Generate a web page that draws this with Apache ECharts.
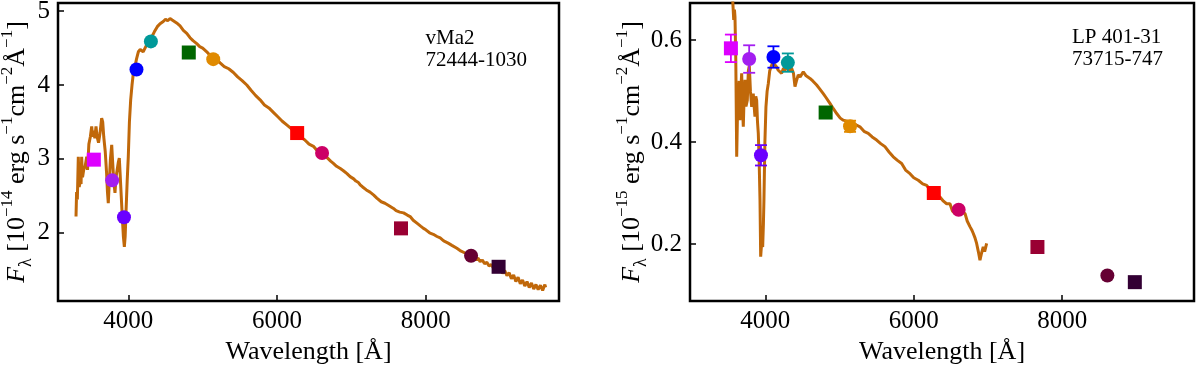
<!DOCTYPE html>
<html>
<head>
<meta charset="utf-8">
<script src="https://cdn.jsdelivr.net/npm/echarts@6/dist/echarts.min.js"></script>
<style>
    html, body { margin: 0; padding: 0; background: #fff; }
    #main { width: 1200px; height: 370px; }
</style>
</head>
<body>
<div id="main"></div>
<script>
// filters (J-PLUS), squares = broad bands, circles = narrow bands
var filterWave = [3537, 3783, 3942, 4110, 4304, 4813, 5142, 6270, 6605, 7666, 8608, 8978];
var filterColors = ['#dd00ff', '#a31ef0', '#6a00ff', '#0000ff', '#009999', '#006600',
    '#e08a00', '#ff0000', '#cc0066', '#990033', '#660033', '#330034'];
var filterShapes = ['rect', 'circle', 'circle', 'circle', 'circle', 'rect',
    'circle', 'rect', 'circle', 'rect', 'circle', 'rect'];

// star 1: vMa2
var photA = [2.99, 2.71, 2.21, 4.21, 4.59, 4.44, 4.35, 3.35, 3.08, 2.06, 1.69, 1.54];
var specWaveA = [3297, 3305, 3315, 3328, 3340, 3352, 3365, 3373, 3385, 3400, 3420, 3441, 3452, 3470, 3490,
    3508, 3520, 3535, 3550, 3566, 3580, 3600, 3620, 3642, 3656, 3670, 3690, 3708, 3720, 3731, 3745, 3760,
    3777, 3790, 3805, 3821, 3835, 3850, 3865, 3879, 3890, 3905, 3920, 3934, 3947, 3958, 3970, 3985, 4000,
    4015, 4032, 4050, 4068, 4090, 4110, 4135, 4160, 4185, 4200, 4225, 4260, 4290, 4315, 4350, 4390, 4427,
    4470, 4500, 4530, 4561, 4590, 4620, 4650, 4696, 4740, 4786, 4830, 4870, 4920, 4960, 5000, 5055, 5100,
    5150, 5180, 5234, 5290, 5350, 5413, 5470, 5530, 5593, 5650, 5710, 5772, 5830, 5890, 5950, 6010, 6070,
    6130, 6190, 6250, 6310, 6370, 6430, 6489, 6540, 6579, 6620, 6669, 6720, 6757, 6800, 6850, 6892, 6940,
    6982, 7030, 7060, 7094, 7117, 7150, 7200, 7250, 7300, 7341, 7400, 7450, 7500, 7565, 7600, 7650, 7700,
    7750, 7789, 7830, 7880, 7930, 7968, 8000, 8050, 8100, 8150, 8193, 8240, 8300, 8350, 8417, 8460, 8520,
    8560, 8596, 8650, 8680, 8700, 8730, 8760, 8790, 8820, 8850, 8880, 8910, 8940, 8970, 9000, 9030, 9060,
    9090, 9120, 9150, 9180, 9210, 9240, 9270, 9300, 9330, 9360, 9390, 9420, 9450, 9480, 9510, 9540, 9570,
    9600, 9610];
var specFluxA = [2.22, 2.55, 2.45, 3.03, 2.62, 2.70, 2.66, 3.03, 2.75, 2.85, 2.90, 3.03, 2.85, 3.20, 3.30,
    3.44, 3.30, 3.38, 3.28, 3.44, 3.30, 3.22, 3.35, 3.55, 3.50, 3.30, 3.10, 2.81, 2.55, 2.40, 2.70, 3.00,
    3.19, 2.95, 2.70, 2.54, 2.75, 2.85, 2.95, 3.01, 2.80, 2.50, 2.20, 1.95, 1.81, 1.95, 2.30, 2.70, 3.03,
    3.50, 3.80, 4.00, 4.16, 4.25, 4.35, 4.45, 4.48, 4.47, 4.45, 4.50, 4.57, 4.61, 4.65, 4.72, 4.79, 4.83,
    4.86, 4.89, 4.87, 4.90, 4.88, 4.86, 4.84, 4.80, 4.74, 4.70, 4.64, 4.60, 4.56, 4.52, 4.50, 4.45, 4.40,
    4.36, 4.35, 4.30, 4.25, 4.22, 4.17, 4.11, 4.06, 4.00, 3.93, 3.86, 3.80, 3.73, 3.69, 3.63, 3.57, 3.51,
    3.46, 3.41, 3.35, 3.30, 3.26, 3.20, 3.17, 3.11, 3.08, 3.05, 3.02, 2.97, 2.94, 2.90, 2.87, 2.84, 2.80,
    2.76, 2.73, 2.70, 2.68, 2.65, 2.62, 2.58, 2.55, 2.51, 2.47, 2.42, 2.40, 2.37, 2.33, 2.30, 2.28, 2.27,
    2.24, 2.22, 2.17, 2.13, 2.09, 2.06, 2.04, 2.00, 1.98, 1.95, 1.93, 1.89, 1.86, 1.83, 1.79, 1.76, 1.73,
    1.71, 1.70, 1.67, 1.63, 1.66, 1.61, 1.63, 1.58, 1.60, 1.55, 1.57, 1.52, 1.55, 1.49, 1.52, 1.45, 1.49,
    1.42, 1.46, 1.38, 1.43, 1.34, 1.40, 1.31, 1.36, 1.28, 1.34, 1.26, 1.32, 1.24, 1.30, 1.23, 1.29, 1.22,
    1.30, 1.26];

// star 2: LP 401-31
var photB = [0.584, 0.563, 0.374, 0.567, 0.556, 0.458, 0.431, 0.300, 0.267, 0.194, 0.138, 0.125];
var photErrB = [0.027, 0.027, 0.020, 0.021, 0.018, 0, 0.011, 0, 0, 0, 0, 0];
var specWaveB = [3555, 3561, 3575, 3585, 3592, 3603, 3615, 3625, 3636, 3648, 3659, 3670, 3682, 3693, 3704,
    3715, 3727, 3740, 3758, 3772, 3785, 3800, 3817, 3838, 3850, 3861, 3872, 3884, 3895, 3906, 3918, 3929,
    3938, 3950, 3965, 3975, 3982, 3995, 4009, 4025, 4041, 4060, 4086, 4105, 4131, 4150, 4175, 4200, 4220,
    4245, 4265, 4290, 4320, 4355, 4380, 4400, 4420, 4444, 4470, 4512, 4550, 4602, 4640, 4692, 4730, 4781,
    4820, 4871, 4915, 4962, 5010, 5051, 5100, 5164, 5220, 5275, 5330, 5387, 5440, 5500, 5555, 5612, 5670,
    5724, 5780, 5837, 5890, 5949, 6000, 6061, 6120, 6174, 6240, 6308, 6353, 6400, 6443, 6488, 6520, 6555,
    6600, 6640, 6690, 6720, 6757, 6780, 6801, 6825, 6847, 6870, 6892, 6910, 6936, 6955, 6982];
var specFluxB = [0.690, 0.679, 0.640, 0.660, 0.646, 0.560, 0.371, 0.450, 0.482, 0.520, 0.443, 0.500, 0.535,
    0.470, 0.430, 0.490, 0.522, 0.470, 0.482, 0.540, 0.550, 0.500, 0.469, 0.495, 0.470, 0.450, 0.490, 0.482,
    0.440, 0.417, 0.360, 0.286, 0.175, 0.200, 0.194, 0.240, 0.286, 0.400, 0.469, 0.500, 0.515, 0.540, 0.551,
    0.556, 0.558, 0.548, 0.541, 0.540, 0.535, 0.545, 0.541, 0.548, 0.540, 0.545, 0.535, 0.509, 0.520, 0.532,
    0.528, 0.538, 0.530, 0.525, 0.520, 0.512, 0.505, 0.495, 0.487, 0.476, 0.466, 0.456, 0.447, 0.443, 0.441,
    0.436, 0.434, 0.430, 0.421, 0.417, 0.410, 0.404, 0.397, 0.391, 0.380, 0.371, 0.364, 0.358, 0.345, 0.338,
    0.330, 0.325, 0.318, 0.315, 0.302, 0.292, 0.292, 0.284, 0.279, 0.279, 0.265, 0.260, 0.270, 0.262, 0.260,
    0.245, 0.234, 0.228, 0.221, 0.212, 0.201, 0.185, 0.168, 0.180, 0.194, 0.185, 0.201];

// ticks
var xTicks = [4000, 6000, 8000];
var yTicksA = [2, 3, 4, 5];
var yTicksB = [0.2, 0.4, 0.6];

var serif = 'Liberation Serif';
var specColor = '#c0680a';

function zip(xs, ys) {
    var out = [];
    for (var i = 0; i < xs.length; i++) {
        out.push([xs[i], ys[i]]);
    }
    return out;
}

function photPoints(flux) {
    var out = [];
    for (var i = 0; i < flux.length; i++) {
        out.push({
            value: [filterWave[i], flux[i]],
            symbol: filterShapes[i],
            itemStyle: { color: filterColors[i], opacity: 1 }
        });
    }
    return out;
}

// y label with super/subscripts
function yName(exp) {
    return '{it|F}{sub|λ}{b| [10}{sup|−' + exp + '}{b| erg s}{sup|−1}{b|cm}{sup|−2}{b|Å}{sup|−1}{b|]}';
}
var yNameRich = {
    b: { fontSize: 26, fontFamily: serif, lineHeight: 36, verticalAlign: 'middle', color: '#000' },
    it: { fontSize: 26, fontFamily: serif, fontStyle: 'italic', lineHeight: 36, verticalAlign: 'middle', color: '#000' },
    sub: { fontSize: 18, fontFamily: serif, lineHeight: 26, verticalAlign: 'bottom', color: '#000' },
    sup: { fontSize: 17, fontFamily: serif, lineHeight: 17, verticalAlign: 'top', color: '#000' }
};

function plainNum(v) {
    return String(v);
}

function makeX(idx, min, max) {
    return {
        gridIndex: idx,
        type: 'value',
        min: min,
        max: max,
        name: 'Wavelength [Å]',
        nameLocation: 'middle',
        nameGap: 38,
        nameMoveOverlap: false,
        nameTextStyle: { fontSize: 26, fontFamily: serif, color: '#000' },
        axisLine: { show: false },
        splitLine: { show: false },
        axisTick: { show: true, inside: true, length: 6, customValues: xTicks, lineStyle: { color: '#000', width: 1.5 } },
        axisLabel: { customValues: xTicks, formatter: plainNum, margin: 8, fontSize: 25, fontFamily: serif, color: '#000' }
    };
}

function makeY(idx, min, max, ticks, exp, gap) {
    return {
        gridIndex: idx,
        type: 'value',
        min: min,
        max: max,
        name: yName(exp),
        nameLocation: 'middle',
        nameRotate: 90,
        nameGap: gap,
        nameMoveOverlap: false,
        nameTextStyle: { rich: yNameRich },
        axisLine: { show: false },
        splitLine: { show: false },
        axisTick: { show: true, inside: true, length: 6, customValues: ticks, lineStyle: { color: '#000', width: 1.5 } },
        axisLabel: { customValues: ticks, formatter: plainNum, margin: 8, fontSize: 25, fontFamily: serif, color: '#000' }
    };
}

// error bars drawn through the axis scale
function errorBarItem(params, api) {
    var x = api.value(0);
    var lo = api.coord([x, api.value(1)]);
    var hi = api.coord([x, api.value(2)]);
    var c = filterColors[api.value(3)];
    var cap = 6;
    var st = { stroke: c, lineWidth: 1.8 };
    return {
        type: 'group',
        children: [
            { type: 'line', shape: { x1: lo[0], y1: lo[1], x2: hi[0], y2: hi[1] }, style: st },
            { type: 'line', shape: { x1: lo[0] - cap, y1: lo[1], x2: lo[0] + cap, y2: lo[1] }, style: st },
            { type: 'line', shape: { x1: hi[0] - cap, y1: hi[1], x2: hi[0] + cap, y2: hi[1] }, style: st }
        ]
    };
}

var errDataB = [];
for (var i = 0; i < photB.length; i++) {
    if (photErrB[i] > 0) {
        errDataB.push([filterWave[i], photB[i] - photErrB[i], photB[i] + photErrB[i], i]);
    }
}

var gridStyle = { show: true, borderColor: '#000', borderWidth: 2.5, backgroundColor: 'transparent', outerBoundsMode: 'none', containLabel: false };

var myChart = echarts.init(document.getElementById('main'), null, { renderer: 'canvas' });

var option = {
    animation: false,
    backgroundColor: '#fff',
    grid: [
        Object.assign({ left: 58, top: 3, width: 501, height: 298 }, gridStyle),
        Object.assign({ left: 690, top: 3, width: 504, height: 298 }, gridStyle)
    ],
    xAxis: [makeX(0, 3055, 9790), makeX(1, 2986, 9775)],
    yAxis: [makeY(0, 1.077, 5.11, yTicksA, '14', 23), makeY(1, 0.088, 0.673, yTicksB, '15', 40)],
    graphic: [
        {
            type: 'text', right: 673, top: 27,
            style: { text: 'vMa2\n72444-1030', align: 'right', font: '21px "Liberation Serif"', lineHeight: 22, fill: '#000' }
        },
        {
            type: 'text', right: 37, top: 26,
            style: { text: 'LP 401-31\n73715-747', align: 'right', font: '21px "Liberation Serif"', lineHeight: 22, fill: '#000' }
        }
    ],
    series: [
        {
            type: 'line', xAxisIndex: 0, yAxisIndex: 0,
            data: zip(specWaveA, specFluxA),
            showSymbol: false, clip: true,
            lineStyle: { color: specColor, width: 3 },
            z: 2
        },
        {
            type: 'scatter', xAxisIndex: 0, yAxisIndex: 0,
            data: photPoints(photA),
            symbolSize: 14,
            z: 4
        },
        {
            type: 'line', xAxisIndex: 1, yAxisIndex: 1,
            data: zip(specWaveB, specFluxB),
            showSymbol: false, clip: true,
            lineStyle: { color: specColor, width: 3 },
            z: 2
        },
        {
            type: 'custom', xAxisIndex: 1, yAxisIndex: 1,
            data: errDataB,
            encode: { x: 0, y: [1, 2] },
            renderItem: errorBarItem,
            z: 3
        },
        {
            type: 'scatter', xAxisIndex: 1, yAxisIndex: 1,
            data: photPoints(photB),
            symbolSize: 14,
            z: 4
        }
    ]
};
myChart.setOption(option);
</script>
</body>
</html>
